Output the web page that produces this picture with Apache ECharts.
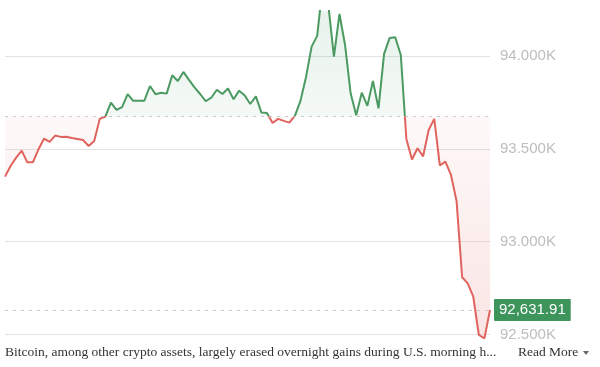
<!DOCTYPE html>
<html><head><meta charset="utf-8">
<script src="https://cdn.jsdelivr.net/npm/echarts@6/dist/echarts.min.js"></script>
<style>html,body{margin:0;padding:0;background:#fff}#c{width:600px;height:367px}</style>
</head><body><div id="c"></div>
<script>
const prices = [
  93350, 93407, 93452, 93490, 93427, 93427, 93497, 93554, 93537, 93571,
  93564, 93565, 93558, 93553, 93547, 93515, 93542, 93661, 93673, 93748,
  93709, 93724, 93794, 93758, 93759, 93759, 93838, 93794, 93802, 93797,
  93896, 93865, 93914, 93871, 93831, 93795, 93756, 93775, 93818, 93795,
  93825, 93767, 93813, 93787, 93741, 93782, 93695, 93693, 93639, 93661,
  93650, 93641, 93677, 93758, 93887, 94050, 94108, 94383, 94275, 93996,
  94226, 94059, 93799, 93680, 93802, 93731, 93865, 93718, 94011, 94097,
  94101, 94005, 93553, 93442, 93503, 93459, 93601, 93661, 93410, 93431,
  93359, 93219, 92808, 92775, 92703, 92497, 92479, 92631.91
];
const previousClose = 93674;
const lastPrice = prices[prices.length - 1];
const yTicks = [92500, 93000, 93500, 94000];
const yMin = 92470;
const yMax = 94242;
const categories = prices.map((_, i) => String(i));
const headline = "Bitcoin, among other crypto assets, largely erased overnight gains during U.S. morning h...";
const readMore = "Read More";

const GREEN = '#4a9a62';
const RED = '#e0635e';
const TAG = '#3d955c';

const chart = echarts.init(document.getElementById('c'), null, {renderer: 'canvas'});

function buildOption(fillColor) {
  return {
    animation: false,
    backgroundColor: '#ffffff',
    grid: {left: 5, right: 110, top: 11, bottom: 27, containLabel: false},
    xAxis: {type: 'category', data: categories, boundaryGap: false, show: false},
    yAxis: {
      type: 'value', position: 'right', min: yMin, max: yMax,
      axisLine: {show: false},
      axisTick: {show: false, customValues: yTicks},
      axisLabel: {
        customValues: yTicks, color: '#bdbdbd', fontSize: 15, margin: 10,
        fontFamily: '"Liberation Sans", Arial, sans-serif',
        formatter: v => (v / 1000).toFixed(3) + 'K'
      },
      splitLine: {show: true, lineStyle: {color: '#e3e3e3', width: 1}}
    },
    visualMap: {
      show: false, type: 'piecewise', seriesIndex: 0, dimension: 1,
      pieces: [
        {gt: previousClose, lte: 1000000, color: GREEN},
        {gte: 0, lte: previousClose, color: RED}
      ]
    },
    series: [
      {
        type: 'line', data: prices, symbol: 'none', z: 3,
        lineStyle: {width: 2}, clip: true
      },
      {
        type: 'line', data: prices, symbol: 'none', z: 2, clip: true,
        lineStyle: {width: 0, opacity: 0},
        itemStyle: {color: RED},
        areaStyle: {origin: previousClose, color: fillColor, opacity: 1},
        markLine: {
          silent: true, symbol: 'none', animation: false,
          lineStyle: {type: [3, 5], color: '#c8c8c8', width: 1},
          data: [
            {yAxis: previousClose, label: {show: false}},
            {
              yAxis: lastPrice,
              label: {
                show: true, position: 'end', distance: 4,
                formatter: lastPrice.toLocaleString('en-US', {minimumFractionDigits: 2, maximumFractionDigits: 2}),
                backgroundColor: TAG, color: '#ffffff', fontSize: 15, lineHeight: 16,
                padding: [3, 5, 3, 5], borderRadius: 1,
                fontFamily: '"Liberation Sans", Arial, sans-serif'
              }
            }
          ]
        }
      }
    ],
    graphic: [
      {type: 'text', x: 5, y: 352, silent: true,
       style: {text: headline, fill: '#333333', font: '13.5px "Liberation Serif", serif', textVerticalAlign: 'middle'}},
      {type: 'text', x: 518, y: 352, silent: true,
       style: {text: readMore, fill: '#333333', font: '13.5px "Liberation Serif", serif', textVerticalAlign: 'middle'}},
      {type: 'polygon', silent: true, shape: {points: [[583, 351], [589, 351], [586, 355]]}, style: {fill: '#666666'}}
    ]
  };
}

chart.setOption(buildOption('rgba(0,0,0,0)'));
const topY = chart.convertToPixel({yAxisIndex: 0}, yMax);
const botY = chart.convertToPixel({yAxisIndex: 0}, yMin);
const baseY = chart.convertToPixel({yAxisIndex: 0}, previousClose);
const b = (baseY - topY) / (botY - topY);
const grad = new echarts.graphic.LinearGradient(0, topY, 0, botY, [
  {offset: 0, color: 'rgba(74,154,98,0.13)'},
  {offset: b, color: 'rgba(74,154,98,0.06)'},
  {offset: b, color: 'rgba(224,99,94,0.04)'},
  {offset: 1, color: 'rgba(224,99,94,0.17)'}
], true);
chart.setOption(buildOption(grad), true);
</script>
</body></html>
